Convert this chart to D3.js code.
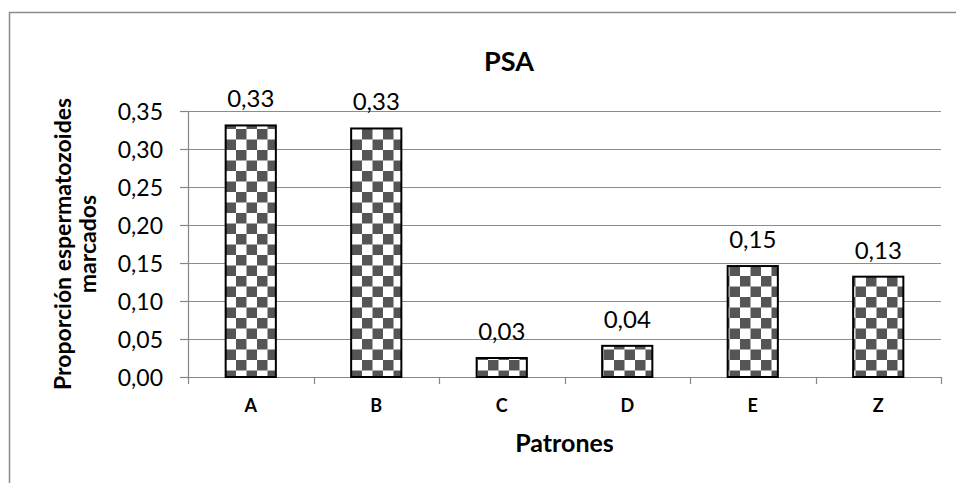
<!DOCTYPE html>
<html>
<head>
<meta charset="utf-8">
<script src="https://cdn.jsdelivr.net/npm/d3@7"></script>
<style>
  body { margin: 0; background: #fff; }
  svg text { font-family: Lato, "Open Sans", sans-serif; fill: #000; }
</style>
</head>
<body>
<svg id="chart" width="956" height="483"></svg>
<script>
// data
var categories = ["A", "B", "C", "D", "E", "Z"];
var values = [0.331, 0.327, 0.025, 0.041, 0.146, 0.132];
var yTicks = [0, 0.05, 0.10, 0.15, 0.20, 0.25, 0.30, 0.35];

var es = d3.formatLocale({decimal: ",", thousands: ".", grouping: [3], currency: ["", " €"]});
var fmt = es.format(".2f");

var margin = {top: 111, right: 15, bottom: 106, left: 188},
    width = 941 - margin.left,
    height = 377 - margin.top;

var svg = d3.select("#chart");

// checker pattern for the bars
var defs = svg.append("defs");
var pat = defs.append("pattern")
    .attr("id", "checks")
    .attr("patternUnits", "userSpaceOnUse")
    .attr("x", 6).attr("y", 18)
    .attr("width", 21).attr("height", 21);
pat.append("rect").attr("width", 21).attr("height", 21).attr("fill", "#fff");
pat.append("rect").attr("x", 0).attr("y", 0).attr("width", 10.5).attr("height", 10.5).attr("fill", "#555");
pat.append("rect").attr("x", 10.5).attr("y", 10.5).attr("width", 10.5).attr("height", 10.5).attr("fill", "#555");

// outer chart frame (cropped at right and bottom)
svg.append("rect")
    .attr("x", 9.5).attr("y", 12.5)
    .attr("width", 1000).attr("height", 500)
    .attr("fill", "none")
    .attr("stroke", "#8a8a8a")
    .attr("stroke-width", 1.5);

var g = svg.append("g")
    .attr("transform", "translate(" + margin.left + "," + margin.top + ")");

var x = d3.scaleBand()
    .domain(categories)
    .range([0, width])
    .paddingInner(0.6)
    .paddingOuter(0.3);

var y = d3.scaleLinear()
    .domain([0, 0.35])
    .range([height, 0]);

// gridlines
g.append("g")
  .selectAll("line")
  .data(yTicks.slice(1))
  .enter()
  .append("line")
    .attr("x1", 0).attr("x2", width)
    .attr("y1", function(d) { return Math.round(y(d)) + 0.5; })
    .attr("y2", function(d) { return Math.round(y(d)) + 0.5; })
    .attr("stroke", "#8c8c8c")
    .attr("stroke-width", 1.2);

// y axis
var yAxis = g.append("g")
    .call(d3.axisLeft(y).tickValues(yTicks).tickFormat(fmt).tickSize(8).tickPadding(17));
yAxis.selectAll("path, line").attr("stroke", "#868686").attr("stroke-width", 1.2);
yAxis.select(".domain").attr("d", "M0.5," + height + "V0");
yAxis.selectAll("text")
    .style("font-family", "Lato, sans-serif")
    .style("font-size", "23px")
    .attr("dy", "0.36em");

// x axis: ticks sit between the categories
var xAxis = g.append("g").attr("transform", "translate(0," + height + ")");
xAxis.append("line")
    .attr("x1", 0).attr("x2", width)
    .attr("y1", 0.5).attr("y2", 0.5)
    .attr("stroke", "#868686").attr("stroke-width", 1.2);
xAxis.selectAll(".tick")
  .data(d3.range(categories.length + 1))
  .enter()
  .append("line")
    .attr("x1", function(i) { return Math.round(i * x.step()) + 0.5; })
    .attr("x2", function(i) { return Math.round(i * x.step()) + 0.5; })
    .attr("y1", 0).attr("y2", 7)
    .attr("stroke", "#868686").attr("stroke-width", 1.2);
xAxis.selectAll(".cat")
  .data(categories)
  .enter()
  .append("text")
    .attr("x", function(d) { return x(d) + x.bandwidth() / 2; })
    .attr("y", 35)
    .attr("text-anchor", "middle")
    .style("font-size", "18px")
    .style("font-weight", "bold")
    .text(function(d) { return d; });

// bars
g.append("g")
  .selectAll("rect")
  .data(values)
  .enter()
  .append("rect")
    .attr("x", function(d, i) { return x(categories[i]); })
    .attr("y", function(d) { return y(d); })
    .attr("width", x.bandwidth())
    .attr("height", function(d) { return height - y(d); })
    .attr("fill", "url(#checks)")
    .attr("stroke", "#000")
    .attr("stroke-width", 2);

// value labels
g.append("g")
  .selectAll("text")
  .data(values)
  .enter()
  .append("text")
    .attr("x", function(d, i) { return x(categories[i]) + x.bandwidth() / 2; })
    .attr("y", function(d) { return y(d) - 18; })
    .attr("text-anchor", "middle")
    .style("font-size", "24px")
    .text(function(d) { return fmt(d); });

// title
svg.append("text")
    .attr("x", 509).attr("y", 71)
    .attr("text-anchor", "middle")
    .style("font-size", "27px")
    .style("font-weight", "bold")
    .text("PSA");

// axis titles
svg.append("text")
    .attr("x", margin.left + width / 2).attr("y", 452)
    .attr("text-anchor", "middle")
    .style("font-size", "25px")
    .style("font-weight", "bold")
    .text("Patrones");

var yt = svg.append("text")
    .attr("transform", "translate(71,244) rotate(-90)")
    .attr("text-anchor", "middle")
    .style("font-size", "23px")
    .style("font-weight", "bold");
yt.append("tspan").attr("x", 0).attr("y", 0).text("Proporción espermatozoides");
yt.append("tspan").attr("x", 0).attr("y", 25).text("marcados");
</script>
</body>
</html>
